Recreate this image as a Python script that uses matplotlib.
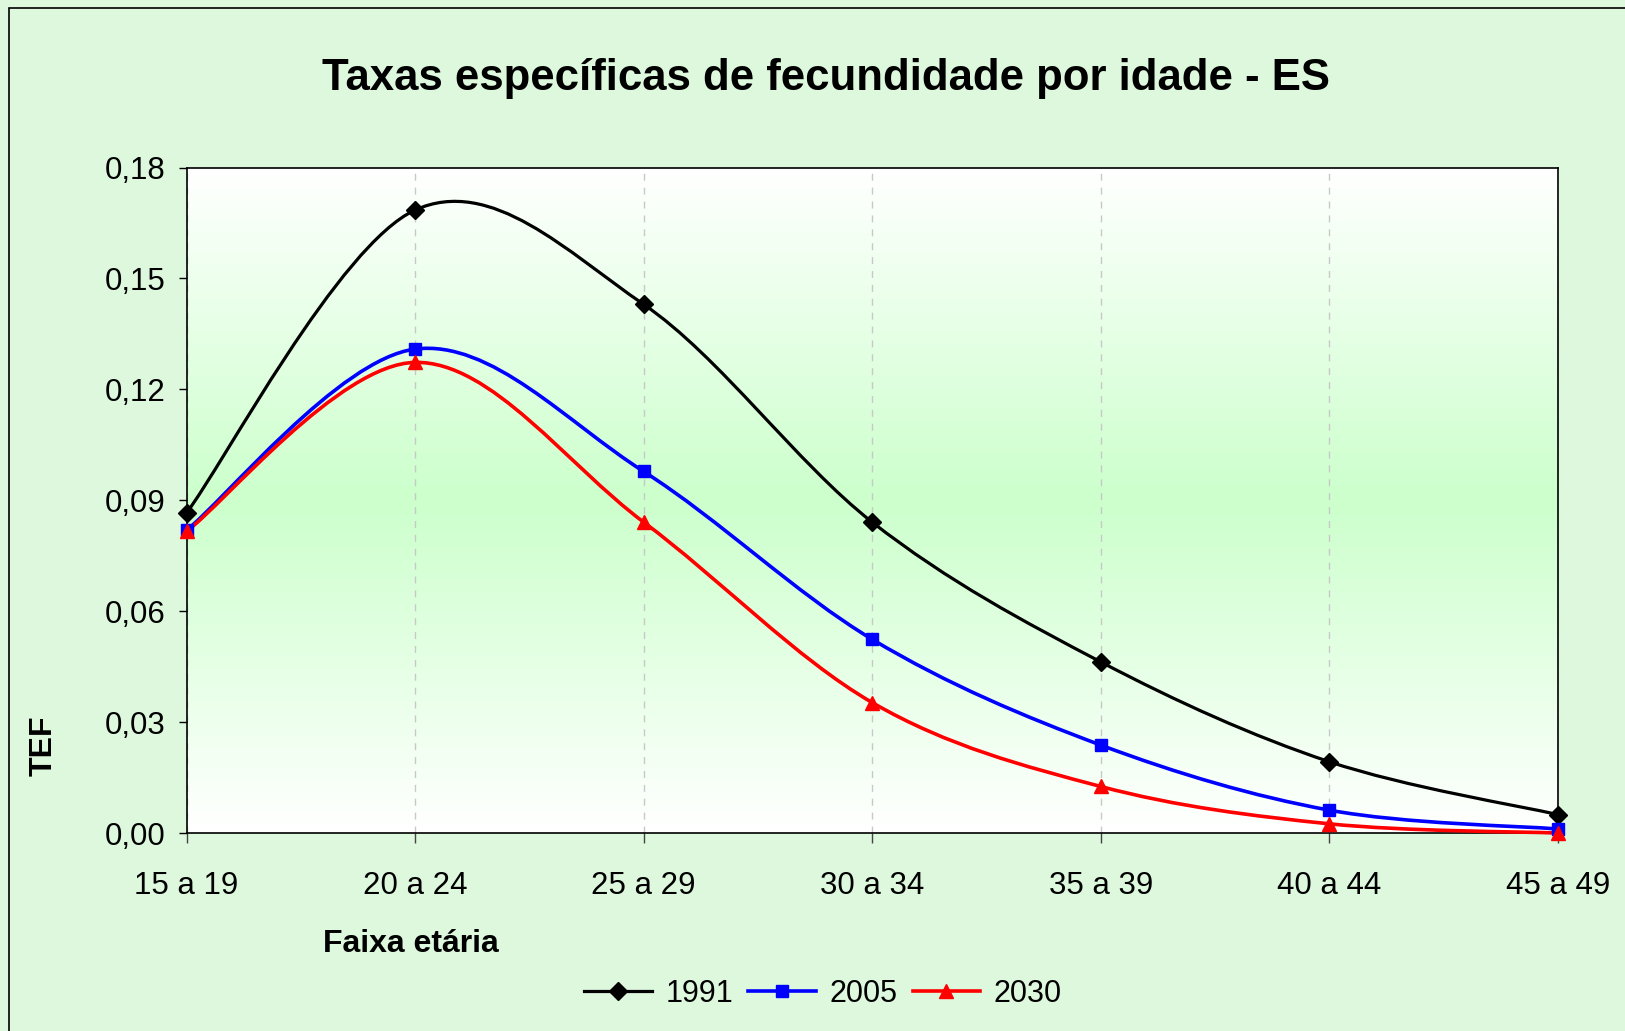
import numpy as np
import matplotlib
matplotlib.use("Agg")
import matplotlib.pyplot as plt
from matplotlib.path import Path
from matplotlib.patches import PathPatch, Rectangle
from matplotlib.lines import Line2D
from matplotlib.ticker import FuncFormatter

# Data
faixas = ["15 a 19", "20 a 24", "25 a 29", "30 a 34", "35 a 39", "40 a 44", "45 a 49"]
tef_1991 = [0.0866, 0.1685, 0.1430, 0.0841, 0.0463, 0.0193, 0.0050]
tef_2005 = [0.0819, 0.1309, 0.0978, 0.0524, 0.0238, 0.0062, 0.0011]
tef_2030 = [0.0816, 0.1273, 0.0841, 0.0353, 0.0126, 0.0025, 0.0000]
anos = ["1991", "2005", "2030"]
yticks = [0.00, 0.03, 0.06, 0.09, 0.12, 0.15, 0.18]

plt.rcParams['font.family'] = ['Liberation Sans', 'DejaVu Sans']

fig = plt.figure(figsize=(16.25, 10.31), dpi=100)
fig.patch.set_facecolor('#ddf8dd')

# outer chart frame (only left/top visible in reference)
fig.patches.append(Rectangle((9 / 1625, -0.05), 1.2, 1.05 - 8 / 1031,
                             transform=fig.transFigure, fill=False,
                             edgecolor='black', linewidth=1.2))

ax = fig.add_axes([0.1148, 0.192, 0.8438, 0.6455])

# plot area gradient: white top/bottom, light green in the middle
grad = np.concatenate([np.linspace(0, 1, 128), np.linspace(1, 0, 128)])
white = np.array([1.0, 1.0, 1.0])
green = np.array([0.80, 1.0, 0.80])
img = white[None, :] * (1 - grad[:, None]) + green[None, :] * grad[:, None]
ax.imshow(img[:, None, :], aspect='auto', extent=[0, 1, 0, 1],
          transform=ax.transAxes, zorder=0, interpolation='bilinear')


def smooth_path(xs, ys):
    # Excel-like smoothed line (Catmull-Rom as cubic Bezier)
    pts = np.column_stack([xs, ys]).astype(float)
    n = len(pts)
    verts = [pts[0]]
    codes = [Path.MOVETO]
    for i in range(n - 1):
        p0 = pts[i - 1] if i > 0 else pts[i]
        p1 = pts[i]
        p2 = pts[i + 1]
        p3 = pts[i + 2] if i + 2 < n else pts[i + 1]
        c1 = p1 + (p2 - p0) / 6.0
        c2 = p2 - (p3 - p1) / 6.0
        verts += [c1, c2, p2]
        codes += [Path.CURVE4] * 3
    return Path(verts, codes)


x = np.arange(len(faixas))
series = [
    (tef_1991, 'black', 'D', 9.5, 2.3),
    (tef_2005, '#0000ff', 's', 9, 2.6),
    (tef_2030, '#ff0000', '^', 10.5, 2.6),
]
handles = []
for vals, col, mk, ms, lw in series:
    ax.add_patch(PathPatch(smooth_path(x, vals), facecolor='none',
                           edgecolor=col, linewidth=lw, zorder=3,
                           clip_on=False))
    ax.plot(x, vals, linestyle='none', marker=mk, markersize=ms,
            color=col, zorder=4, clip_on=False)
    handles.append(Line2D([], [], color=col, linewidth=lw, marker=mk,
                          markersize=ms))

ax.set_xlim(0, len(faixas) - 1)
ax.set_ylim(0, 0.18)
ax.set_xticks(x)
ax.set_xticklabels(faixas)
ax.set_yticks(yticks)
ax.yaxis.set_major_formatter(FuncFormatter(lambda v, p: f"{v:.2f}".replace('.', ',')))
ax.tick_params(axis='x', direction='out', length=7, width=1, pad=20,
               labelsize=22.5, color='#444444')
ax.tick_params(axis='y', direction='out', length=6, width=1, pad=9,
               labelsize=22.5)

ax.xaxis.grid(True, linestyle=(0, (5, 5)), color='#c8c8c8', linewidth=1)
ax.set_axisbelow(True)
for s in ax.spines.values():
    s.set_linewidth(1.2)
    s.set_color('black')

fig.text(0.508, 1 - 90 / 1031, "Taxas específicas de fecundidade por idade - ES",
         ha='center', va='baseline', fontsize=31.5, fontweight='bold')
fig.text(411 / 1625, 1 - 944 / 1031, "Faixa etária", ha='center',
         va='center', fontsize=23, fontweight='bold')
fig.text(43.5 / 1625, 1 - 746 / 1031, "TEF", ha='center', va='center',
         rotation=90, fontsize=23, fontweight='bold')

fig.legend(handles, anos, loc='center', bbox_to_anchor=(823 / 1625, 1 - 994 / 1031),
           ncol=3, frameon=False, fontsize=22, handlelength=2.2,
           columnspacing=0.5, handletextpad=0.45)

fig.savefig("out.png", dpi=100, facecolor=fig.get_facecolor())
